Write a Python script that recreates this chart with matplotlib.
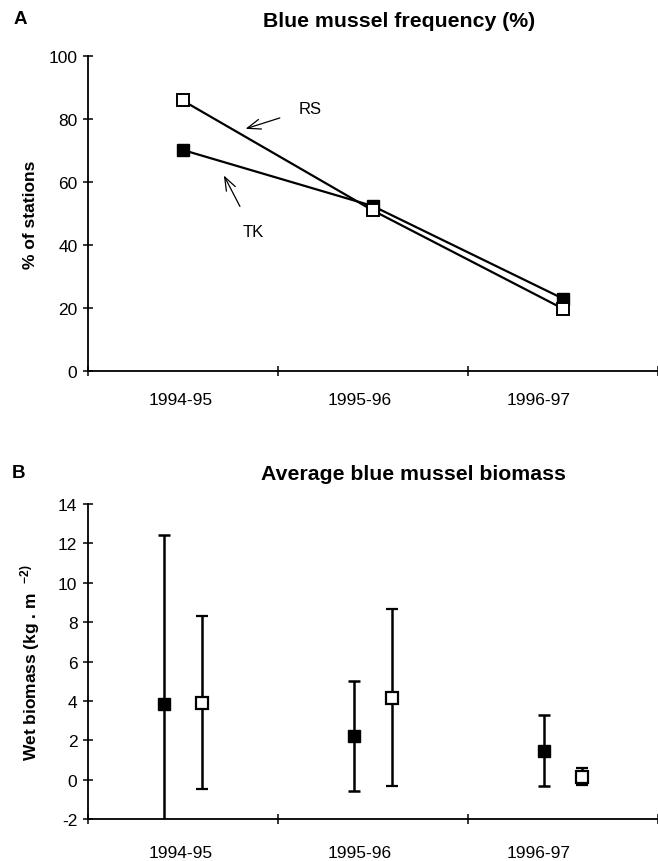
import numpy as np
import matplotlib
matplotlib.use("Agg")
import matplotlib.pyplot as plt

plt.rcParams['font.family'] = ['Liberation Sans', 'DejaVu Sans']
plt.rcParams['axes.unicode_minus'] = False
plt.rcParams['mathtext.fontset'] = 'custom'
plt.rcParams['mathtext.rm'] = 'Liberation Sans'
plt.rcParams['mathtext.bf'] = 'Liberation Sans:bold'

seasons = ["1994-95", "1995-96", "1996-97"]

# panel A: % of stations with blue mussels
freq_tk = [70.2, 52.4, 23.0]
freq_rs = [85.9, 51.0, 19.8]

# panel B: mean wet biomass (kg/m2) and error
bio_tk = [3.82, 2.22, 1.47]
err_tk = [8.62, 2.80, 1.80]
bio_rs = [3.90, 4.17, 0.15]
err_rs = [4.40, 4.48, 0.43]

x = np.arange(len(seasons)) + 0.5
label_pos = [0.49, 1.43, 2.37]


def style_axis(ax, lab_pad, ylab_x):
    ax.spines['top'].set_visible(False)
    ax.spines['right'].set_visible(False)
    for s in ['left', 'bottom']:
        ax.spines[s].set_linewidth(1.3)
    ax.set_xlim(0, 3)
    ax.set_xticks([0, 1, 2, 3])
    ax.set_xticklabels([])
    ax.set_xticks(label_pos, minor=True)
    ax.set_xticklabels(seasons, minor=True)
    ax.tick_params(axis='x', which='minor', length=0, pad=lab_pad, labelsize=12.5)
    ax.tick_params(axis='both', which='major', direction='inout', length=6.5,
                   width=1.1, labelsize=12.5)
    ax.tick_params(axis='y', pad=4)
    ax.yaxis.set_label_coords(ylab_x, 0.5)


fig = plt.figure(figsize=(6.58, 8.62), dpi=100)

# A
ax1 = fig.add_axes([0.133, 0.5684, 0.867, 0.3654])
ax1.plot(x, freq_rs, color='black', lw=1.6, marker='s', ms=8.5,
         mfc='white', mec='black', mew=1.4, zorder=3)
ax1.plot(x, freq_tk, color='black', lw=1.6, marker='s', ms=8.5,
         mfc='black', mec='black', zorder=2)
ax1.set_ylim(0, 100)
ax1.set_yticks(np.arange(0, 101, 20))
ax1.set_ylabel("% of stations", fontsize=12.5, fontweight='bold')
style_axis(ax1, 15, -0.087)

# arrows to the lines
arrow = dict(arrowstyle='->,head_length=0.8,head_width=0.3', color='black',
             lw=0.9, shrinkA=12, shrinkB=0)
ax1.annotate("RS", xy=(0.831, 76.9), xytext=(1.17, 83.4), fontsize=12,
             ha='center', va='center', arrowprops=arrow)
ax1.annotate("TK", xy=(0.717, 62.1), xytext=(0.87, 44.3), fontsize=12,
             ha='center', va='center', arrowprops=arrow)

# B
ax2 = fig.add_axes([0.133, 0.0487, 0.867, 0.3654])
ax2.errorbar(x - 0.1, bio_tk, yerr=err_tk, fmt='s', color='black', ms=8.5,
             mfc='black', mec='black', elinewidth=1.8, capsize=4.5,
             capthick=1.8)
ax2.errorbar(x + 0.1, bio_rs, yerr=err_rs, fmt='s', color='black', ms=8.5,
             mfc='white', mec='black', mew=1.6, elinewidth=1.8, capsize=4.5,
             capthick=1.8)
ax2.set_ylim(-2, 14)
ax2.set_yticks(np.arange(-2, 15, 2))
ax2.set_ylabel("Wet biomass (kg . m  $^{\\mathbf{-2)}}$", fontsize=12.5,
               fontweight='bold')
style_axis(ax2, 18.5, -0.08)

fig.text(0.02, 0.977, "A", fontsize=13.5, fontweight='bold', va='center')
fig.text(0.606, 0.975, "Blue mussel frequency (%)", fontsize=15.3,
         fontweight='bold', ha='center', va='center')
fig.text(0.018, 0.451, "B", fontsize=13.5, fontweight='bold', va='center')
fig.text(0.629, 0.449, "Average blue mussel biomass", fontsize=15.3,
         fontweight='bold', ha='center', va='center')

fig.savefig("out.png", dpi=100)
